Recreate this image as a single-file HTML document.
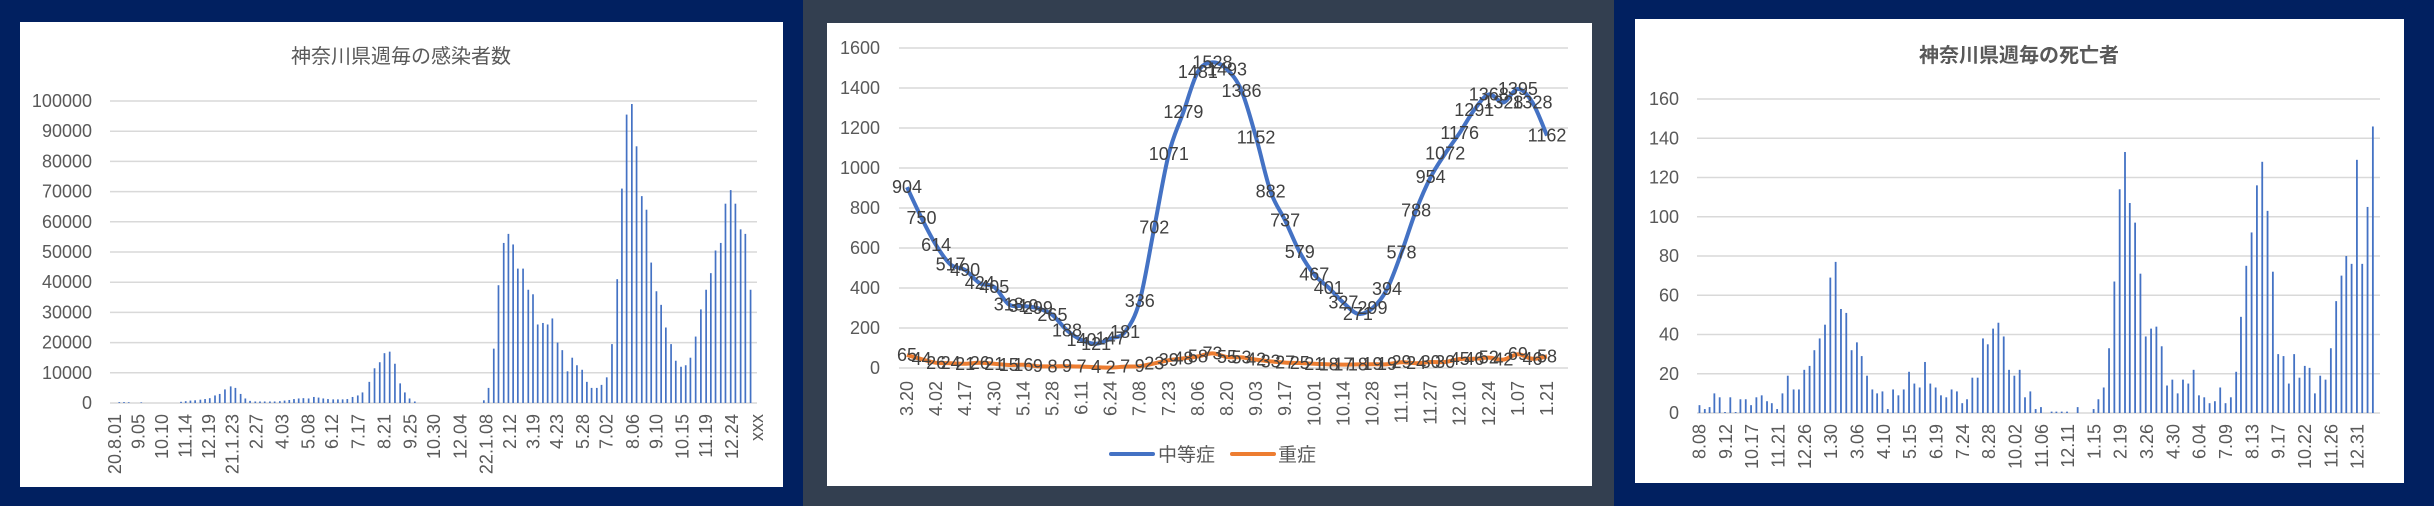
<!DOCTYPE html>
<html><head><meta charset="utf-8"><style>
html,body{margin:0;padding:0;background:#012060;}
svg{display:block;font-family:"Liberation Sans","Noto Sans CJK JP",sans-serif;}
</style></head><body>
<svg id="s" width="2434" height="506" viewBox="0 0 2434 506" xmlns="http://www.w3.org/2000/svg">
<rect x="0" y="0" width="2434" height="506" fill="#012060"/>
<rect x="803" y="0" width="811" height="506" fill="#333F50"/>
<rect x="20" y="22" width="763" height="465" fill="#fff"/>
<rect x="827" y="23" width="765" height="463" fill="#fff"/>
<rect x="1635" y="19" width="769" height="464" fill="#fff"/>
<text x="401" y="63" font-size="20" fill="#595959" text-anchor="middle" font-family="'Liberation Sans','Noto Sans CJK JP',sans-serif">神奈川県週毎の感染者数</text>
<text x="2019" y="62" font-size="20" font-weight="bold" fill="#595959" text-anchor="middle" font-family="'Liberation Sans','Noto Sans CJK JP',sans-serif">神奈川県週毎の死亡者</text>
<g id="g"></g>
<line x1="1111" y1="454" x2="1153" y2="454" stroke="#4472C4" stroke-width="4" stroke-linecap="round"/>
<text x="1158" y="461" font-size="19" fill="#595959">中等症</text>
<line x1="1232" y1="454" x2="1274" y2="454" stroke="#ED7D31" stroke-width="4" stroke-linecap="round"/>
<text x="1278" y="461" font-size="19" fill="#595959">重症</text>
</svg>
<script>
var NS="http://www.w3.org/2000/svg",G=document.getElementById('g');
function el(t,a,txt){var e=document.createElementNS(NS,t);for(var k in a)e.setAttribute(k,a[k]);if(txt!=null)e.textContent=txt;G.appendChild(e);return e;}
function grid(x1,x2,y0,y1,n,labs,lx){for(var i=0;i<=n;i++){var y=y0+(y1-y0)*i/n;el('line',{x1:x1,x2:x2,y1:y,y2:y,stroke:'#D9D9D9','stroke-width':1.5});el('text',{x:lx,y:y+6,'font-size':18,fill:'#595959','text-anchor':'end'},labs[i]);}}
function xl(x,y,t){el('text',{x:x,y:y,'font-size':18,fill:'#595959','text-anchor':'end','dominant-baseline':'central',transform:'rotate(-90 '+x+' '+y+')'},t);}
// Panel 1
var l1=[];for(var i=0;i<=10;i++)l1.push(String(i*10000));
grid(110,757,403,101,10,l1,92);
var b1=[[228,300],[237,300],[246,250],[270,200],[346,400],[355,600],[364,800],[373,900],[383,1100],[392,1300],[401,1600],[411,2500],[420,3000],[430,4500],[441,5500],[450,5000],[460,3000],[469,1500],[478,700],[488,500],[497,500],[506,500],[516,500],[525,500],[535,600],[544,800],[553,1000],[562,1300],[571,1500],[580,1600],[590,1500],[600,2000],[609,1800],[618,1500],[627,1300],[637,1200],[646,1200],[655,1200],[664,1300],[674,2000],[684,2500],[693,3500],[706,7000],[716,11500],[726,13500],[735,16500],[745,17000],[755,13000],[765,6500],[774,3500],[783,1500],[793,500],[925,900],[934,5000],[944,18000],[953,39000],[963,53000],[972,56000],[981,52500],[990,44500],[1000,44500],[1010,37500],[1019,36000],[1028,26000],[1038,26500],[1047,26000],[1056,28000],[1066,20000],[1075,17500],[1085,10500],[1094,15000],[1103,12500],[1113,11000],[1122,7000],[1131,5000],[1141,5000],[1150,6000],[1160,8500],[1170,19500],[1180,41000],[1189,71000],[1198,95500],[1208,99000],[1217,85000],[1227,68500],[1236,64000],[1245,46500],[1255,37000],[1264,32500],[1273,25000],[1283,19500],[1292,14000],[1302,12000],[1311,12500],[1320,15000],[1330,22000],[1340,31000],[1350,37500],[1359,43000],[1368,50500],[1378,53000],[1387,66000],[1397,70500],[1406,66000],[1416,57500],[1425,56000],[1435,37500]];
b1.forEach(function(b){var x=b[0]/1.912,h=b[1]*302/100000;el('rect',{x:x-0.8,y:403-h,width:1.7,height:h,fill:'#4472C4'});});
var x1l=[[220,'20.8.01'],[265,'9.05'],[310,'10.10'],[355,'11.14'],[400,'12.19'],[445,'21.1.23'],[490,'2.27'],[540,'4.03'],[590,'5.08'],[635,'6.12'],[685,'7.17'],[735,'8.21'],[785,'9.25'],[830,'10.30'],[880,'12.04'],[930,'22.1.08'],[975,'2.12'],[1020,'3.19'],[1065,'4.23'],[1115,'5.28'],[1160,'7.02'],[1210,'8.06'],[1255,'9.10'],[1305,'10.15'],[1350,'11.19'],[1400,'12.24'],[1447,'xxx']];
x1l.forEach(function(a){xl(a[0]/1.912,414,a[1]);});
// Panel 2
var l2=[];for(var i=0;i<=8;i++)l2.push(String(i*200));
grid(899,1568,368,48,8,l2,880);
var m=[904,750,614,517,490,424,405,318,310,299,265,188,140,121,147,181,336,702,1071,1279,1481,1528,1493,1386,1152,882,737,579,467,401,327,271,299,394,578,788,954,1072,1176,1291,1368,1328,1395,1328,1162];
var s=[65,44,26,24,21,26,21,15,16,9,8,9,7,4,2,7,9,23,39,48,58,73,55,53,42,33,27,25,21,18,17,18,19,19,29,24,30,30,45,46,52,42,69,46,58];
function px(i){return 907+i*640/44;}function py(v){return 368-v*0.2;}
function path(d){var p=d.map(function(v,i){return [px(i),py(v)];});var s='M'+p[0][0]+','+p[0][1];for(var i=0;i<p.length-1;i++){var a=p[i-1]||p[i],b=p[i],c=p[i+1],e=p[i+2]||c;var c1=[b[0]+(c[0]-a[0])/6,b[1]+(c[1]-a[1])/6],c2=[c[0]-(e[0]-b[0])/6,c[1]-(e[1]-b[1])/6];s+='C'+c1+' '+c2+' '+c;}return s;}
el('path',{d:path(s),fill:'none',stroke:'#ED7D31','stroke-width':4,'stroke-linejoin':'round'});
el('path',{d:path(m),fill:'none',stroke:'#4472C4','stroke-width':4,'stroke-linejoin':'round'});
m.forEach(function(v,i){el('text',{x:px(i),y:py(v)+6,'font-size':18,fill:'#404040','text-anchor':'middle'},String(v));});
s.forEach(function(v,i){el('text',{x:px(i),y:py(v)+6,'font-size':18,fill:'#404040','text-anchor':'middle'},String(v));});
var x2l=['3.20','4.02','4.17','4.30','5.14','5.28','6.11','6.24','7.08','7.23','8.06','8.20','9.03','9.17','10.01','10.14','10.28','11.11','11.27','12.10','12.24','1.07','1.21'];
x2l.forEach(function(t,i){xl(px(i*2),381,t);});
// Panel 3
var l3=[];for(var i=0;i<=8;i++)l3.push(String(i*20));
grid(1697,2380,413,99,8,l3,1679);
var b3=[[187,4],[197,2],[206,3],[215,10],[225,8],[235,0.5],[245,8],[255,0.5],[264,7],[274,7],[284,4],[294,8],[304,9],[314,6],[323,5],[333,2],[343,10],[353,19],[364,12],[374,12],[384,22],[394,24],[403,32],[413,38],[423,45],[433,69],[443,77],[453,53],[463,51],[473,32],[483,36],[492,29],[502,19],[512,12],[521,10],[531,11],[541,2],[551,12],[561,9],[571,12],[581,21],[591,15],[601,13],[611,26],[621,15],[631,13],[641,9],[651,8],[661,12],[671,11],[681,5],[690,7],[700,18],[710,18],[720,38],[729,35],[739,43],[749,46],[759,39],[769,22],[779,19],[789,22],[799,8],[809,11],[819,2],[829,3],[849,0.7],[858,0.7],[868,0.7],[878,0.7],[898,3],[928,2],[937,7],[947,13],[957,33],[967,67],[977,114],[987,133],[996,107],[1006,97],[1016,71],[1026,39],[1036,43],[1046,44],[1056,34],[1066,14],[1076,17],[1086,10],[1096,17],[1106,15],[1116,22],[1126,9],[1136,8],[1146,5],[1156,6],[1166,13],[1176,5],[1186,8],[1196,21],[1205,49],[1215,75],[1225,92],[1235,116],[1245,128],[1255,103],[1265,72],[1275,30],[1285,29],[1295,15],[1305,30],[1315,18],[1325,24],[1334,23],[1344,10],[1354,19],[1364,17],[1374,33],[1384,57],[1394,70],[1403,80],[1413,76],[1423,129],[1433,76],[1443,105],[1453,146]];
b3.forEach(function(b){var x=b[0]/1.88+1600,h=b[1]*314/160;el('rect',{x:x-0.9,y:413-h,width:1.8,height:h,fill:'#4472C4'});});
var x3l=['8.08','9.12','10.17','11.21','12.26','1.30','3.06','4.10','5.15','6.19','7.24','8.28','10.02','11.06','12.11','1.15','2.19','3.26','4.30','6.04','7.09','8.13','9.17','10.22','11.26','12.31'];
x3l.forEach(function(t,i){xl((187+i*49.5)/1.88+1600,424,t);});
</script>
</body></html>
